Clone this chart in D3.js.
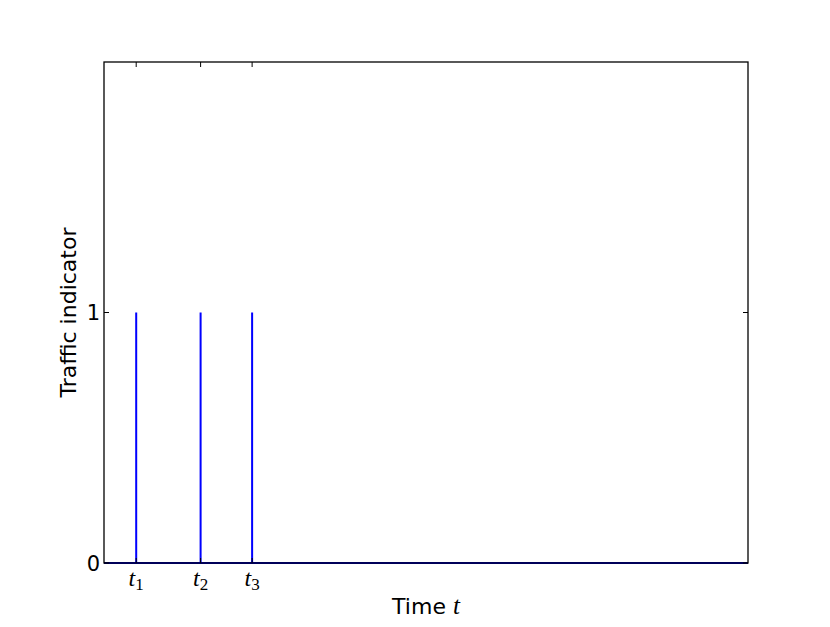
<!DOCTYPE html>
<html><head><meta charset="utf-8">
<script src="https://cdn.jsdelivr.net/npm/d3@7"></script>
<style>body{margin:0;background:#fff}svg{display:block}</style>
</head><body>
<svg id="c" width="830" height="627"></svg>
<script>
const times  = [0, 5, 5, 5, 15, 15, 15, 23, 23, 23, 100];
const values = [0, 0, 1, 0, 0, 1, 0, 0, 1, 0, 0];
const xTicks = [5, 15, 23];
const xTickSubs = ["1", "2", "3"];
const yTicks = [0, 1];

const svg = d3.select("#c");
const L = 104, R = 748, T = 62, B = 563;
const x = d3.scaleLinear().domain([0, 100]).range([L, R]);
const y = d3.scaleLinear().domain([0, 2]).range([B, T]);

const data = times.map((t, i) => [t, values[i]]);
svg.append("path").datum(data)
  .attr("fill", "none").attr("stroke", "#0000ff").attr("stroke-width", 2)
  .attr("d", d3.line().x(d => x(d[0])).y(d => y(d[1])));

// frame
svg.append("rect").attr("x", L).attr("y", T).attr("width", R - L).attr("height", B - T)
  .attr("fill", "none").attr("stroke", "#000").attr("stroke-width", 1.3);

// ticks inward
const tl = 5;
xTicks.forEach(v => {
  svg.append("line").attr("x1", x(v)).attr("x2", x(v)).attr("y1", B).attr("y2", B - tl).attr("stroke", "#000");
  svg.append("line").attr("x1", x(v)).attr("x2", x(v)).attr("y1", T).attr("y2", T + tl).attr("stroke", "#000");
});
yTicks.forEach(v => {
  svg.append("line").attr("x1", L).attr("x2", L + tl).attr("y1", y(v)).attr("y2", y(v)).attr("stroke", "#000");
  svg.append("line").attr("x1", R).attr("x2", R - tl).attr("y1", y(v)).attr("y2", y(v)).attr("stroke", "#000");
  svg.append("text").attr("x", L - 4).attr("y", y(v)).attr("dy", "0.36em")
    .attr("text-anchor", "end").attr("font-family", "DejaVu Sans").attr("font-size", 21)
    .text(d3.format("d")(v));
});
xTicks.forEach((v, i) => {
  const t = svg.append("text").attr("x", x(v)).attr("y", B + 23)
    .attr("text-anchor", "middle").attr("font-family", "Liberation Serif").attr("font-size", 24);
  t.append("tspan").attr("font-style", "italic").text("t");
  t.append("tspan").attr("font-size", 17).attr("dy", 4).text(xTickSubs[i]);
});

svg.append("text").attr("x", (L + R) / 2).attr("y", 614).attr("text-anchor", "middle")
  .attr("font-family", "DejaVu Sans").attr("font-size", 22)
  .call(t => { t.append("tspan").text("Time "); t.append("tspan").attr("font-family", "Liberation Serif").attr("font-style", "italic").attr("font-size", 25).text("t"); });

svg.append("text").attr("transform", `translate(76,${(T + B) / 2}) rotate(-90)`)
  .attr("text-anchor", "middle").attr("font-family", "DejaVu Sans").attr("font-size", 22)
  .text("Traffic indicator");
</script>
</body></html>
